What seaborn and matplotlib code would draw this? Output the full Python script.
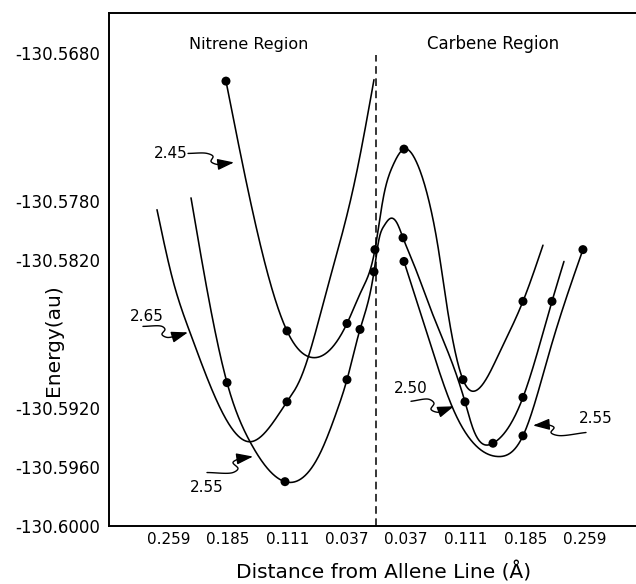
import numpy as np
import matplotlib
matplotlib.use("Agg")
import matplotlib.pyplot as plt
import seaborn as sns

# ---------------------------------------------------------------------------
# Potential-energy curves vs. displacement from the allene line.
# Negative x = nitrene side, positive x = carbene side (labels show |x|).
# ---------------------------------------------------------------------------

# Curve R = 2.45 (runs through both regions, tall barrier)
curve_245_x = [-0.1872, -0.1113, -0.0802, -0.0367, -0.0180, -0.0019,
               0.0081, 0.0205, 0.0342, 0.0491, 0.0665, 0.0765, 0.0864, 0.1076,
               0.1250, 0.1536, 0.1822, 0.2071]
curve_245_E = [-130.5699, -130.5868, -130.5886, -130.5863, -130.5840,
               -130.5813, -130.5779, -130.5756, -130.5745, -130.5753, -130.5783,
               -130.5811, -130.5847, -130.5901, -130.5908, -130.5882, -130.5848,
               -130.5810]
points_245_x = [-0.1872, -0.1113, -0.0367, -0.0019, 0.0342, 0.1076, 0.1822]
points_245_E = [-130.5699, -130.5868, -130.5863, -130.5813, -130.5745, -130.5901, -130.5848]

# Curve R = 2.55 (low nitrene minimum, small barrier)
curve_255_x = [-0.2307, -0.2108, -0.1859, -0.1573, -0.1138, -0.0703, -0.0491,
               -0.0367, -0.0205, -0.0031, 0.0031, 0.0093, 0.0168, 0.0255, 0.0330,
               0.0479, 0.0665, 0.1101, 0.1200, 0.1449, 0.1822, 0.2183, 0.2332]
curve_255_E = [-130.5778, -130.5840, -130.5903, -130.5943, -130.5970, -130.5951,
               -130.5922, -130.5901, -130.5867, -130.5828, -130.5806, -130.5797,
               -130.5792, -130.5795, -130.5805, -130.5825, -130.5852, -130.5916,
               -130.5934, -130.5944, -130.5913, -130.5848, -130.5821]
points_255_x = [-0.1859, -0.1138, -0.0367, -0.0205, -0.0031, 0.0330, 0.1101,
                0.1449, 0.1822, 0.2183]
points_255_E = [-130.5903, -130.5970, -130.5901, -130.5867, -130.5828, -130.5805,
                -130.5916, -130.5944, -130.5913, -130.5848]

# Curve R = 2.65 (nitrene side)
curve_265_x = [-0.2730, -0.2531, -0.2320, -0.1909, -0.1573, -0.1113, -0.0951,
               -0.0616, -0.0267, -0.0031]
curve_265_E = [-130.5786, -130.5834, -130.5869, -130.5924, -130.5943, -130.5916,
               -130.5901, -130.5840, -130.5766, -130.5698]
points_265_x = [-0.1113]
points_265_E = [-130.5916]

# Lowest carbene-side curve
curve_c3_x = [0.0342, 0.0665, 0.0939, 0.1225, 0.1511, 0.1822, 0.2158, 0.2568]
curve_c3_E = [-130.5821, -130.5876, -130.5919, -130.5945, -130.5953,
              -130.5939, -130.5881, -130.5813]
points_c3_x = [0.0342, 0.1822, 0.2568]
points_c3_E = [-130.5821, -130.5939, -130.5813]

# Axis ticks
x_ticks = [-0.259, -0.185, -0.111, -0.037, 0.037, 0.111, 0.185, 0.259]
x_tick_labels = ["0.259", "0.185", "0.111", "0.037", "0.037", "0.111", "0.185", "0.259"]
y_ticks = [-130.5680, -130.5780, -130.5820, -130.5920, -130.5960, -130.6000]
y_tick_labels = ["-130.5680", "-130.5780", "-130.5820", "-130.5920", "-130.5960", "-130.6000"]

# Curve labels: text, text position (baseline), arrow tip
curve_labels = ["2.45", "2.65", "2.55", "2.50", "2.55"]
label_x = [-0.2556, -0.2854, -0.2108, 0.0429, 0.2730]
label_E = [-130.5751, -130.5861, -130.5977, -130.5910, -130.5930]
tip_x = [-0.1772, -0.2345, -0.1536, 0.0964, 0.1947]
tip_E = [-130.5754, -130.5869, -130.5953, -130.5919, -130.5932]

# ---------------------------------------------------------------------------
sns.set_theme(style="white")
plt.rcParams["font.family"] = ["DejaVu Sans"]
plt.rcParams["axes.unicode_minus"] = False
for key in ["text.color", "axes.labelcolor", "xtick.color", "ytick.color"]:
    plt.rcParams[key] = "black"

W, H = 636, 584
fig = plt.figure(figsize=(W / 100, H / 100), dpi=100)
ax = fig.add_axes([109 / W, 58 / H, 527 / W, 513 / H])

XLIM = (-0.3327, 0.3228)
YLIM = (-130.6000, -130.565291)
ax.set_xlim(*XLIM)
ax.set_ylim(*YLIM)


def natural_spline(x, y, n=700):
    """Natural cubic spline y(x) sampled on a fine grid."""
    x = np.asarray(x, float)
    y = np.asarray(y, float)
    h = np.diff(x)
    m = len(x)
    A = np.zeros((m, m))
    r = np.zeros(m)
    A[0, 0] = A[-1, -1] = 1.0
    for i in range(1, m - 1):
        A[i, i - 1] = h[i - 1]
        A[i, i] = 2 * (h[i - 1] + h[i])
        A[i, i + 1] = h[i]
        r[i] = 6 * ((y[i + 1] - y[i]) / h[i] - (y[i] - y[i - 1]) / h[i - 1])
    M = np.linalg.solve(A, r)
    xs = np.linspace(x[0], x[-1], n)
    k = np.clip(np.searchsorted(x, xs) - 1, 0, m - 2)
    t1 = x[k + 1] - xs
    t0 = xs - x[k]
    ys = (M[k] * t1 ** 3 / (6 * h[k]) + M[k + 1] * t0 ** 3 / (6 * h[k])
          + (y[k] / h[k] - M[k] * h[k] / 6) * t1
          + (y[k + 1] / h[k] - M[k + 1] * h[k] / 6) * t0)
    return xs, ys


def smooth(x, y):
    # work in screen units so both axes carry equal weight
    disp = ax.transData.transform(np.column_stack([x, y]))
    sx, sy = natural_spline(disp[:, 0], disp[:, 1])
    d = ax.transData.inverted().transform(np.column_stack([sx, sy]))
    return d[:, 0], d[:, 1]


def catmull_rom(P, n=12, alpha=0.5):
    """Centripetal Catmull-Rom spline through the rows of P (for pointers)."""
    P = np.asarray(P, float)
    P = np.vstack([2 * P[0] - P[1], P, 2 * P[-1] - P[-2]])
    out = []
    for i in range(len(P) - 3):
        p0, p1, p2, p3 = P[i:i + 4]
        t0 = 0.0
        t1 = t0 + np.linalg.norm(p1 - p0) ** alpha
        t2 = t1 + np.linalg.norm(p2 - p1) ** alpha
        t3 = t2 + np.linalg.norm(p3 - p2) ** alpha
        t = np.linspace(t1, t2, n, endpoint=False)[:, None]
        A1 = (t1 - t) / (t1 - t0) * p0 + (t - t0) / (t1 - t0) * p1
        A2 = (t2 - t) / (t2 - t1) * p1 + (t - t1) / (t2 - t1) * p2
        A3 = (t3 - t) / (t3 - t2) * p2 + (t - t2) / (t3 - t2) * p3
        B1 = (t2 - t) / (t2 - t0) * A1 + (t - t0) / (t2 - t0) * A2
        B2 = (t3 - t) / (t3 - t1) * A2 + (t - t1) / (t3 - t1) * A3
        out.append((t2 - t) / (t2 - t1) * B1 + (t - t1) / (t2 - t1) * B2)
    out.append(P[-2][None, :])
    return np.vstack(out)


curves = [
    (curve_245_x, curve_245_E, points_245_x, points_245_E),
    (curve_255_x, curve_255_E, points_255_x, points_255_E),
    (curve_265_x, curve_265_E, points_265_x, points_265_E),
    (curve_c3_x, curve_c3_E, points_c3_x, points_c3_E),
]
for cx, cy, px, py in curves:
    sx, sy = smooth(cx, cy)
    sns.lineplot(x=sx, y=sy, sort=False, estimator=None, color="black",
                 linewidth=1.15, ax=ax)
    sns.scatterplot(x=px, y=py, color="black", s=42, edgecolor="none",
                    ax=ax, zorder=3)

ax.set_xlim(*XLIM)
ax.set_ylim(*YLIM)

# Allene line
dash_top = -130.5681
ax.axvline(0.0, ymin=0, ymax=(dash_top - YLIM[0]) / (YLIM[1] - YLIM[0]),
           color="black", linewidth=1.1, linestyle=(0, (5, 3)))

# Wavy pointer shapes (pixel offsets from the arrow tip, y up)
squiggles = [
    [(-46, 9), (-27, 9), (-21, 6), (-23, 1), (-17, -2), (-8, -1), (0, 0)],
    [(-45, 6), (-26, 6), (-23, 3), (-26, -2), (-21, -5), (-10, -3), (0, 0)],
    [(-46, -16), (-20, -16), (-15, -12), (-20, -6), (-13, -2), (-7, -1), (0, 0)],
    [(-43, 5), (-25, 7), (-20, 3), (-23, -3), (-16, -6), (-8, -3), (0, 0)],
    [(53, -7), (25, -10), (18, -7), (21, -2), (13, 1), (7, 0.5), (0, 0)],
]
for lab, lx, ly, tx, ty, shape in zip(curve_labels, label_x, label_E,
                                      tip_x, tip_E, squiggles):
    ax.text(lx, ly, lab, ha="center", va="baseline", fontsize=11)
    tip_disp = ax.transData.transform([[tx, ty]])[0]
    pts = tip_disp + np.asarray(shape, float)
    path = ax.transData.inverted().transform(catmull_rom(pts))
    ax.plot(path[:-4, 0], path[:-4, 1], color="black", linewidth=1.0)
    back = ax.transData.inverted().transform(
        [tip_disp + np.asarray(shape[-2], float) * 1.4])[0]
    ax.annotate("", xy=(tx, ty), xytext=(back[0], back[1]),
                arrowprops=dict(arrowstyle="-|>,head_length=0.5,head_width=0.17",
                                color="black", lw=1.0, shrinkA=0, shrinkB=0,
                                mutation_scale=20))

# Region titles
ax.text(-0.1586, -130.5677, "Nitrene Region", ha="center", va="baseline", fontsize=11.5)
ax.text(0.1449, -130.5677, "Carbene Region", ha="center", va="baseline", fontsize=12)

# Axes styling
for side in ["left", "top", "bottom"]:
    ax.spines[side].set_visible(True)
    ax.spines[side].set_color("black")
    ax.spines[side].set_linewidth(1.4)
ax.spines["right"].set_visible(False)

ax.set_xticks(x_ticks, x_tick_labels)
ax.set_yticks(y_ticks, y_tick_labels)
ax.tick_params(axis="both", direction="in", length=11.5, width=1.3, color="black")
ax.tick_params(axis="x", labelsize=11, pad=4.5)
ax.tick_params(axis="y", labelsize=12, pad=6.5)
ax.tick_params(top=False, right=False)
ax.yaxis.get_major_ticks()[0].tick1line.set_visible(False)

ax.set_xlabel("Distance from Allene Line (Å)", fontsize=14.5)
ax.xaxis.set_label_coords(0.5218, -0.1023)
ax.xaxis.label.set_va("baseline")
ax.set_ylabel("Energy(au)", fontsize=14.5)
ax.yaxis.label.set_va("center")
ax.yaxis.set_label_coords(-0.1053, 0.3626)

ax.grid(False)
fig.savefig("out.png", dpi=100, facecolor="white")
